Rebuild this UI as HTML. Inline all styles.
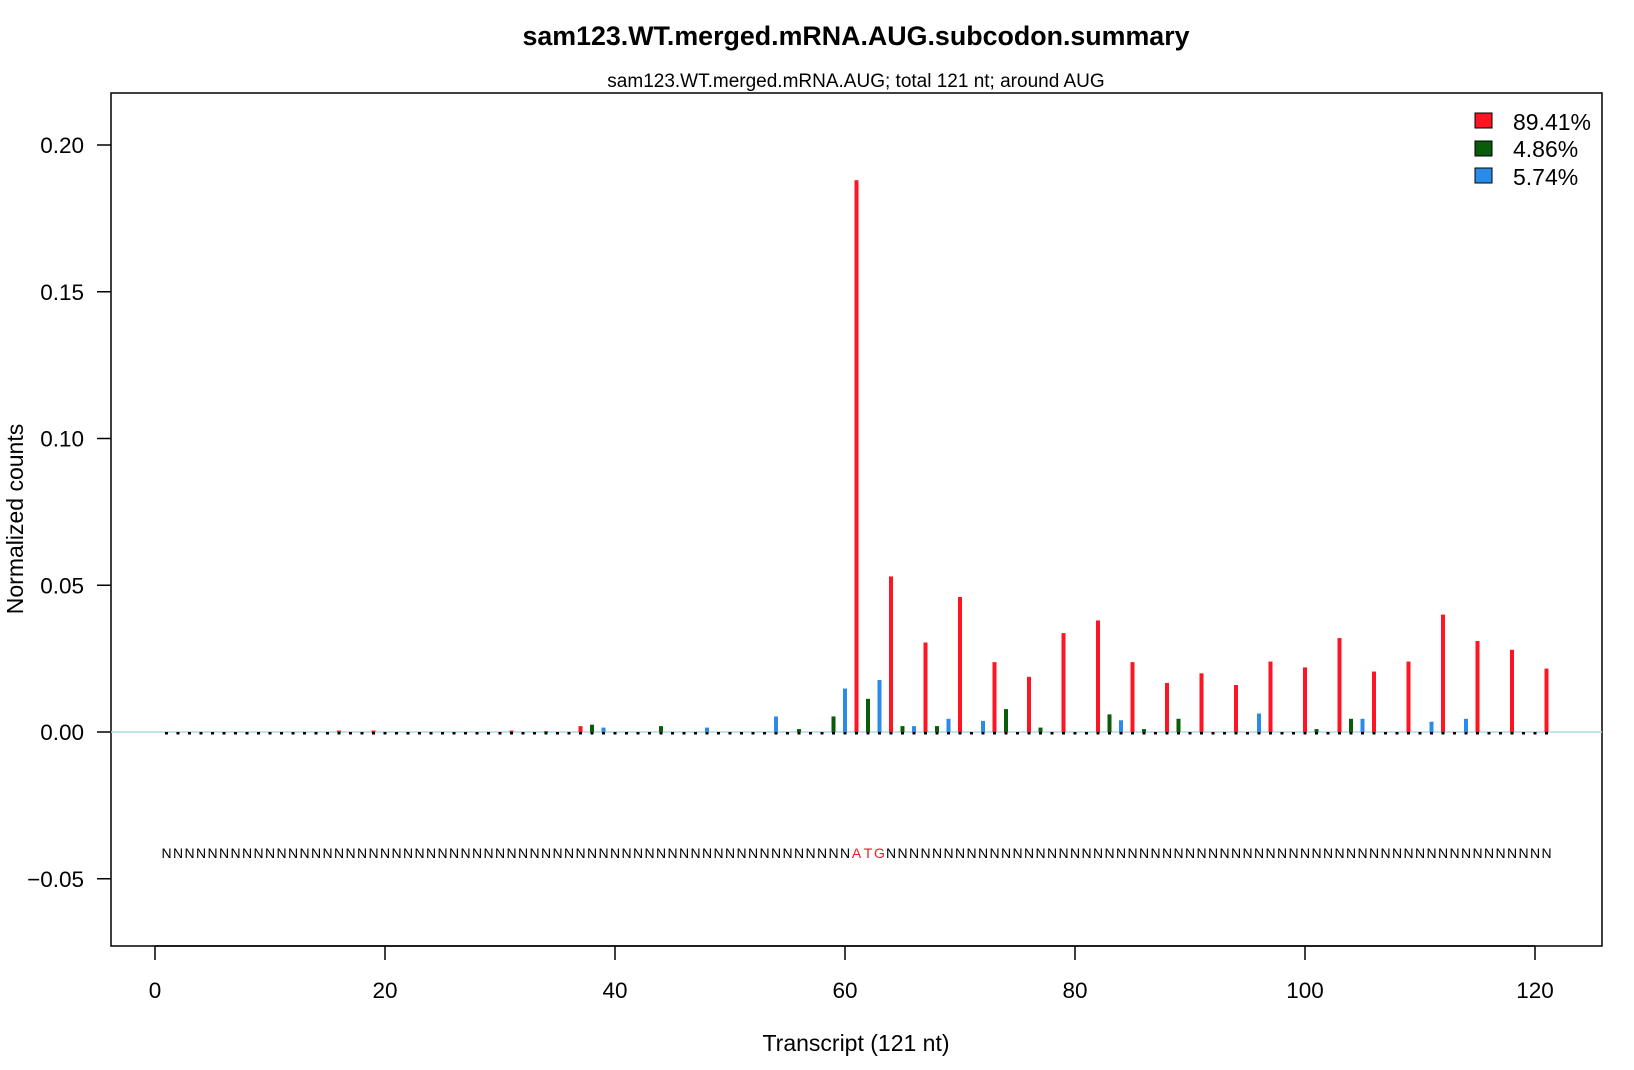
<!DOCTYPE html>
<html><head><meta charset="utf-8"><style>
html,body{margin:0;padding:0;background:#fff;}
svg{display:block;font-family:"Liberation Sans",Arial,sans-serif;}
</style></head><body>
<svg id="chart" width="1634" height="1070" viewBox="0 0 1634 1070">
<text x="856" y="45" text-anchor="middle" font-size="26.8" font-weight="bold">sam123.WT.merged.mRNA.AUG.subcodon.summary</text>
<text x="856" y="87" text-anchor="middle" font-size="19">sam123.WT.merged.mRNA.AUG; total 121 nt; around AUG</text>
<rect x="111" y="93" width="1491" height="853" fill="none" stroke="#000" stroke-width="1.5"/>
<g id="xaxis"></g>
<g id="yaxis"></g>
<text x="856" y="1051" text-anchor="middle" font-size="23">Transcript (121 nt)</text>
<text transform="translate(23,519) rotate(-90)" text-anchor="middle" font-size="23">Normalized counts</text>
<line x1="111" x2="1602" y1="732" y2="732" stroke="#add8e6" stroke-width="1.5"/>
<g id="bars"></g>
<g id="seq"></g>
<g>
<rect x="1475" y="113" width="17" height="15" fill="#ff1424" stroke="#000"/>
<text x="1513" y="130" font-size="23">89.41%</text>
<rect x="1475" y="141" width="17" height="15" fill="#0a5c0a" stroke="#000"/>
<text x="1513" y="157" font-size="23">4.86%</text>
<rect x="1475" y="168" width="17" height="15" fill="#2b8be8" stroke="#000"/>
<text x="1513" y="185" font-size="23">5.74%</text>
</g>
</svg>
<script>
const positions=[16,19,31,34,37,38,39,44,48,54,56,59,60,61,62,63,64,65,66,67,68,69,70,72,73,74,76,77,79,82,83,84,85,86,88,89,91,94,96,97,100,101,103,104,105,106,109,111,112,114,115,118,121];
const counts=[0.0005,0.0005,0.0005,0.0003,0.002,0.0025,0.0015,0.002,0.0015,0.0053,0.001,0.0053,0.0148,0.188,0.0113,0.0177,0.053,0.002,0.002,0.0305,0.002,0.0045,0.046,0.0038,0.0238,0.0078,0.0188,0.0015,0.0337,0.038,0.006,0.004,0.0238,0.001,0.0167,0.0045,0.020,0.016,0.0063,0.024,0.022,0.001,0.032,0.0045,0.0045,0.0206,0.024,0.0035,0.040,0.0045,0.031,0.028,0.0216];
const xTicks=[0,20,40,60,80,100,120];
const yTicks=[-0.05,0,0.05,0.10,0.15,0.20];
const yTickLabels=["\u22120.05","0.00","0.05","0.10","0.15","0.20"];
const sequence="N".repeat(60)+"ATG"+"N".repeat(58);
const frameColors=["#ff1424","#0a5c0a","#2b8be8"];
const NS="http://www.w3.org/2000/svg";
const sx=v=>155+v*11.5;
const sy=v=>732-v*2935;
function mk(tag,attrs,parent){const e=document.createElementNS(NS,tag);for(const k in attrs)e.setAttribute(k,attrs[k]);parent.appendChild(e);return e;}
const xa=document.getElementById('xaxis');
mk('line',{x1:sx(0),x2:sx(120),y1:946,y2:946,stroke:'#000','stroke-width':1.5},xa);
xTicks.forEach(t=>{
  const l=mk('line',{x1:sx(t),x2:sx(t),y1:946,y2:960,stroke:'#000','stroke-width':1.5},xa);
  
  
  const tx=mk('text',{x:sx(t),y:998,'text-anchor':'middle','font-size':22.5},xa);
  tx.textContent=t;
  
  
});
const ya=document.getElementById('yaxis');
yTicks.forEach((t,i)=>{
  const l=mk('line',{x1:97,x2:111,y1:sy(t),y2:sy(t),stroke:'#000','stroke-width':1.5},ya);
  
  
  const tx=mk('text',{x:84,y:sy(t)+8,'text-anchor':'end','font-size':22.5},ya);
  tx.textContent=yTickLabels[i];
  
  
});
const bg=document.getElementById('bars');
for(let p=1;p<=121;p++){
  const idx=positions.indexOf(p);
  const v=idx>=0?counts[idx]:0;
  const f=((p-61)%3+3)%3;
  if(v>0){
    const r=mk('rect',{x:sx(p)-2,y:sy(v),width:4,height:sy(0)-sy(v),fill:frameColors[f]},bg);
    
    
  }
  const d=mk('rect',{x:sx(p)-1.5,y:732,width:3,height:2.5,fill:'#000'},bg);
  
  
}
const sg=document.getElementById('seq');
for(let i=0;i<sequence.length;i++){
  const p=i+1;
  const isStart=p>=61&&p<=63;
  const t=mk('text',{x:sx(p),y:858,'text-anchor':'middle','font-size':14,fill:isStart?'#ff1424':'#000'},sg);
  t.textContent=sequence[i];
  
  
}
</script>
</body></html>
